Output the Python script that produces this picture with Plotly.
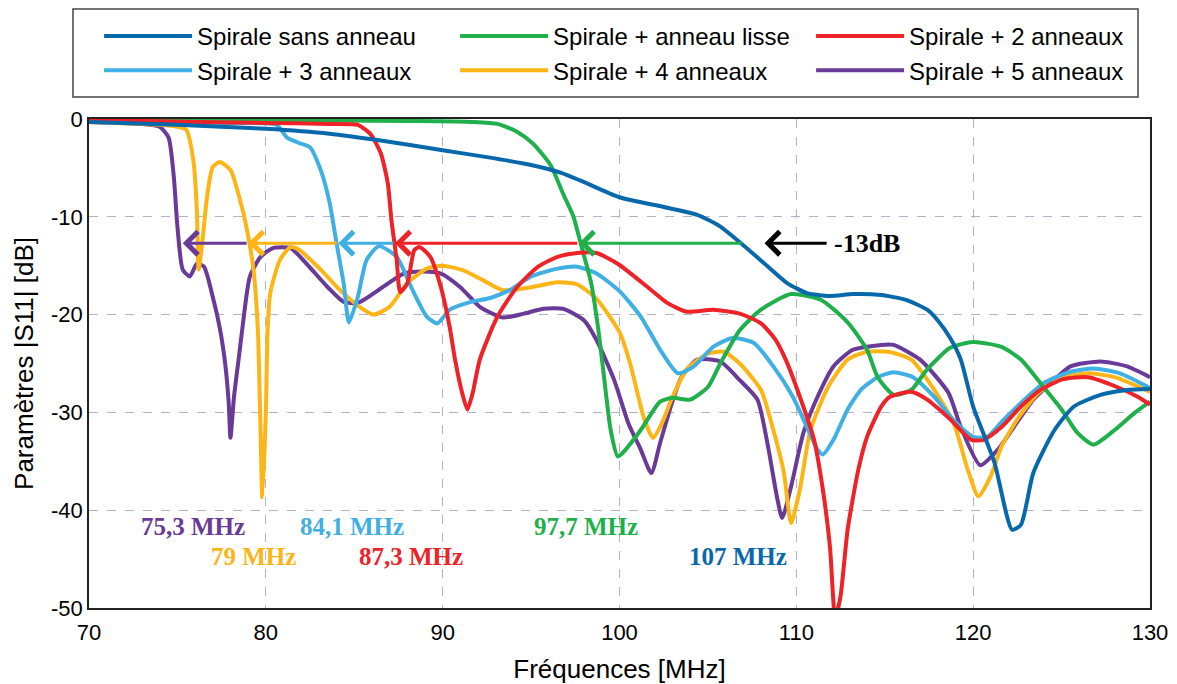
import plotly.graph_objects as go

# ---------------- data ----------------
series_names = ["Spirale sans anneau", "Spirale + anneau lisse", "Spirale + 2 anneaux",
                "Spirale + 3 anneaux", "Spirale + 4 anneaux", "Spirale + 5 anneaux"]
series_colors = ["#0868AC", "#20B04B", "#EE2227", "#40B0E4", "#FDB515", "#6A3A98"]

f_sans = [70, 75, 80, 83.6, 86.5, 90, 92.5, 95, 96.7, 97.8, 100, 102.5, 104.4, 105.7, 107, 108.4, 109.5,
          110.6, 111.9, 113.2, 114.8, 116.2, 117.4, 118.0, 118.7, 119.3, 120.0, 121.2, 122.2, 122.7, 123.4,
          124.6, 125.7, 127.2, 128.7, 130]
s_sans = [-0.3, -0.6, -1.0, -1.5, -2.2, -3.2, -3.9, -4.7, -5.5, -6.3, -8.0, -9.0, -9.8, -11.0, -12.9, -15.1,
          -16.8, -17.8, -18.1, -17.9, -18.0, -18.5, -19.5, -20.6, -22.4, -24.6, -29.4, -35.1, -42.0, -41.5,
          -36.2, -31.8, -29.4, -28.2, -27.7, -27.6]

f_lisse = [70, 80, 88, 91.7, 93.1, 94.2, 95.1, 96.1, 96.8, 97.4, 97.8, 98.4, 98.8, 99.1, 99.5, 99.9, 100.2,
           101.2, 102.3, 103.0, 104.0, 105.0, 105.7, 106.8, 108.0, 109.7, 111.4, 112.9, 114.0, 114.6, 115.5,
           116.5, 117.4, 118.7, 120.0, 121.6, 122.7, 123.8, 125.0, 125.9, 126.8, 128.0, 129.1, 130]
s_lisse = [-0.1, -0.1, -0.2, -0.3, -0.5, -1.3, -2.5, -4.7, -7.6, -10.0, -12.7, -16.8, -21.5, -26.0, -31.8,
           -34.5, -34.1, -31.8, -28.9, -28.5, -28.7, -27.4, -25.0, -21.6, -19.5, -17.9, -18.5, -20.8, -23.6,
           -26.4, -28.2, -27.7, -25.6, -23.4, -22.8, -23.3, -24.6, -27.0, -29.7, -32.1, -33.3, -31.8, -30.1,
           -28.9]

f_2a = [70, 76, 80, 83.6, 85.2, 85.9, 86.5, 86.9, 87.1, 87.4, 87.6, 88.0, 88.4, 88.7, 89.3, 89.9, 90.4, 90.7,
        91.1, 91.4, 91.7, 92.1, 93.1, 94.2, 95.4, 96.5, 97.6, 98.7, 99.9, 101.6, 102.7, 103.8, 105.3, 106.8,
        108.0, 108.8, 109.4, 110.2, 111.0, 111.5, 111.9, 112.2, 112.5, 112.9, 113.5, 114.0, 114.8, 115.3,
        116.5, 117.4, 118.7, 119.9, 120.6, 121.6, 122.7, 123.8, 125.1, 126.5, 128.0, 129.3, 130]
s_2a = [-0.1, -0.3, -0.4, -0.5, -0.6, -1.5, -3.5, -6.6, -10.3, -14.4, -17.7, -16.8, -13.4, -13.1, -14.1,
        -17.2, -21.3, -24.6, -28.0, -29.7, -28.0, -24.6, -20.2, -17.2, -15.1, -14.1, -13.7, -13.7, -14.8,
        -17.2, -18.8, -19.7, -19.5, -19.9, -20.9, -22.5, -24.6, -28.4, -32.8, -37.9, -43.7, -51.0, -48.8,
        -42.0, -35.9, -32.5, -29.4, -28.4, -27.9, -28.7, -30.7, -32.8, -32.8, -31.5, -29.4, -27.7, -26.6,
        -26.4, -27.3, -28.4, -29.2]

f_3a = [70, 78, 80.6, 81.2, 81.8, 82.5, 83.1, 83.6, 84.0, 84.4, 84.7, 85.2, 85.7, 86.4, 87.4, 88.3, 89.1,
        89.7, 90.4, 91.6, 92.7, 93.8, 95.0, 96.5, 97.6, 98.7, 100.0, 101.2, 102.3, 103.3, 104.2, 105.3,
        106.4, 107.6, 108.7, 109.8, 110.6, 111.2, 111.5, 112.1, 112.9, 113.7, 114.6, 115.5, 116.6, 117.8,
        118.9, 120.0, 120.8, 121.7, 122.9, 124.0, 125.4, 126.8, 128.3, 130]
s_3a = [-0.2, -0.4, -0.6, -1.9, -2.4, -2.9, -5.2, -8.5, -12.7, -16.8, -20.8, -18.2, -14.4, -13.0, -14.1,
        -17.5, -20.2, -20.9, -19.5, -18.7, -18.3, -17.5, -16.1, -15.3, -15.1, -15.8, -17.6, -20.2, -23.6,
        -26.0, -25.3, -23.3, -22.4, -22.9, -25.3, -28.4, -31.5, -33.8, -34.3, -32.8, -29.7, -27.6, -26.4,
        -25.9, -26.4, -28.4, -30.8, -32.5, -32.5, -30.8, -28.7, -27.0, -25.9, -25.5, -26.0, -27.5]

f_4a = [70, 74, 75.0, 75.5, 75.9, 76.1, 76.2, 76.4, 76.7, 77.0, 77.4, 78.0, 78.5, 78.9, 79.3, 79.55, 79.7,
        79.8, 80.0, 80.1, 80.25, 80.8, 81.4, 81.9, 83.1, 84.2, 85.3, 86.1, 87.0, 88.0, 89.1, 90.0, 91.2,
        92.3, 93.4, 95.0, 96.5, 97.6, 98.7, 100.0, 100.6, 101.4, 101.9, 102.4, 103.0, 103.8, 105.0, 105.9,
        106.8, 108.0, 108.7, 109.3, 109.7, 110.2, 110.8, 111.8, 112.9, 114.0, 115.2, 116.5, 117.8, 118.9,
        119.7, 120.3, 121.0, 121.6, 122.5, 123.7, 125.0, 126.5, 128.0, 130]
s_4a = [-0.3, -0.6, -0.8, -1.1, -4.2, -9.3, -15.4, -12.7, -7.6, -4.9, -4.4, -5.2, -8.0, -11.0, -15.4,
        -21.6, -31.8, -38.7, -30.1, -21.6, -17.8, -14.4, -13.1, -13.4, -15.4, -17.5, -19.2, -20.0, -19.2,
        -16.8, -15.3, -15.0, -15.5, -16.5, -17.5, -17.2, -16.7, -16.9, -18.4, -21.8, -25.0, -30.7, -32.6,
        -31.1, -28.4, -25.6, -24.0, -23.8, -25.0, -27.7, -31.8, -36.2, -41.3, -37.9, -31.8, -27.4, -24.6,
        -23.8, -23.8, -24.6, -27.7, -31.1, -35.9, -38.6, -36.5, -33.5, -30.7, -28.0, -26.5, -26.0, -26.4,
        -27.9]

f_5a = [70, 73, 74.0, 74.5, 74.8, 75.0, 75.3, 75.7, 76.1, 76.5, 77.0, 77.4, 77.7, 77.9, 78.0, 78.2, 78.5,
        78.7, 79.1, 79.7, 80.4, 81.4, 82.3, 83.5, 84.4, 85.2, 86.6, 87.8, 88.9, 89.9, 91.0, 92.1, 93.4, 94.6,
        95.7, 96.8, 98.0, 98.7, 99.7, 100.5, 101.2, 101.8, 102.3, 102.9, 103.5, 104.4, 105.7, 106.8, 107.8,
        108.4, 108.9, 109.2, 109.7, 110.4, 111.2, 112.1, 113.2, 114.8, 115.5, 117.0, 118.6, 119.3, 120.4,
        121.4, 122.3, 123.4, 124.4, 125.5, 127.2, 128.7, 130]
s_5a = [-0.3, -0.5, -0.8, -1.9, -6.0, -11.0, -15.4, -16.1, -14.8, -15.1, -18.2, -21.4, -25.0, -29.0, -32.6,
        -28.4, -24.0, -21.0, -16.1, -14.1, -13.2, -13.2, -14.8, -17.2, -18.7, -18.8, -17.2, -15.8, -15.6,
        -15.8, -17.2, -19.2, -20.3, -19.9, -19.4, -19.4, -20.6, -22.6, -26.7, -31.1, -33.8, -36.2, -33.1,
        -29.4, -26.4, -24.6, -24.8, -26.7, -28.7, -33.5, -38.6, -40.8, -37.6, -32.1, -28.4, -25.3, -23.6,
        -23.1, -23.1, -24.6, -28.0, -31.5, -35.4, -33.8, -31.5, -28.7, -27.0, -25.3, -24.8, -25.3, -26.4]

# -13 dB crossing frequencies (MHz): 5 anneaux, 4, 3, 2, lisse, sans anneau
cross_freqs = [75.3, 79, 84.1, 87.3, 97.7, 107]
cross_level = -12.7
threshold_label = "-13dB"

x_ticks = [70, 80, 90, 100, 110, 120, 130]
y_ticks = [0, -10, -20, -30, -40, -50]
y_ticktext = ["0", "-10", "-20", "-30", "-40", "-50"]

# ---------------- figure ----------------
freqs = [f_sans, f_lisse, f_2a, f_3a, f_4a, f_5a]
vals = [s_sans, s_lisse, s_2a, s_3a, s_4a, s_5a]
draw_order = [5, 4, 3, 1, 2, 0]

fig = go.Figure()
for i in draw_order:
    fig.add_trace(go.Scatter(
        x=freqs[i], y=vals[i], mode="lines", name=series_names[i],
        line=dict(color=series_colors[i], width=4, shape="spline", smoothing=0.6), legendrank=i + 1,
    ))

# arrows at -13 dB: each from next crossing to own crossing
arrow_colors = [series_colors[5], series_colors[4], series_colors[3], series_colors[2], series_colors[1]]
for k in range(5):
    fig.add_annotation(
        x=cross_freqs[k], y=cross_level, ax=cross_freqs[k + 1], ay=cross_level,
        xref="x", yref="y", axref="x", ayref="y", text="", showarrow=True,
        arrowhead=4, arrowsize=1.5, arrowwidth=3, arrowcolor=arrow_colors[k],
    )

# black arrow + -13dB label
fig.add_annotation(x=108.2, y=cross_level, ax=111.8, ay=cross_level, xref="x", yref="y",
                   axref="x", ayref="y", text="", showarrow=True, arrowhead=4, arrowsize=1.5,
                   arrowwidth=3, arrowcolor="black")
fig.add_annotation(x=112.0, y=cross_level, xref="x", yref="y", text=threshold_label, showarrow=False,
                   xanchor="left", font=dict(family="Liberation Serif", size=26, color="black", weight="bold"))

# frequency labels
label_colors = [series_colors[5], series_colors[4], series_colors[3], series_colors[2], series_colors[1],
                series_colors[0]]
label_pos = [(75.9, -41.7), (79.3, -44.7), (84.9, -41.7), (88.2, -44.7), (98.1, -41.7), (106.7, -44.7)]
for k, fr in enumerate(cross_freqs):
    txt = (f"{fr:g}".replace(".", ",")) + " MHz"
    fig.add_annotation(x=label_pos[k][0], y=label_pos[k][1], xref="x", yref="y", text=txt,
                       showarrow=False,
                       font=dict(family="Liberation Serif", size=25, color=label_colors[k], weight="bold"))

# legend frame
fig.add_shape(type="rect", xref="paper", yref="paper", x0=-0.0151, x1=0.9887, y0=1.045, y1=1.225,
              line=dict(color="#444", width=1.5), fillcolor="white", layer="below")

grid_col = "#B3B0C9"
fig.update_xaxes(range=[70, 130], tickvals=x_ticks, showgrid=True, gridcolor=grid_col, griddash="dash",
                 gridwidth=1, showline=True, linecolor="#222", linewidth=1.5, mirror=True, ticks="",
                 zeroline=False, ticklabelstandoff=4,
                 tickfont=dict(family="Liberation Sans", size=22, color="black"),
                 title=dict(text="Fréquences [MHz]", font=dict(family="Liberation Sans", size=26, color="black"),
                            standoff=16))
fig.update_yaxes(range=[-50, 0], tickvals=y_ticks, ticktext=y_ticktext, showgrid=True, gridcolor=grid_col,
                 griddash="dash", gridwidth=1, showline=True, linecolor="#222", linewidth=1.5, mirror=True,
                 ticks="", zeroline=False, tickfont=dict(family="Liberation Sans", size=22, color="black"),
                 title=dict(text="Paramètres |S11| [dB]", font=dict(family="Liberation Sans", size=26, color="black"),
                            standoff=10))

fig.update_layout(
    width=1177, height=684,
    margin=dict(l=81, r=35, t=111, b=84, autoexpand=False),
    plot_bgcolor="white", paper_bgcolor="white",
    legend=dict(orientation="h", x=1.0161, xanchor="right", y=1.215, yanchor="top",
                entrywidth=253, itemwidth=88, bgcolor="rgba(0,0,0,0)", borderwidth=0,
                font=dict(family="Liberation Sans", size=24, color="black"), traceorder="normal"),
)

fig.write_html("out.html")
